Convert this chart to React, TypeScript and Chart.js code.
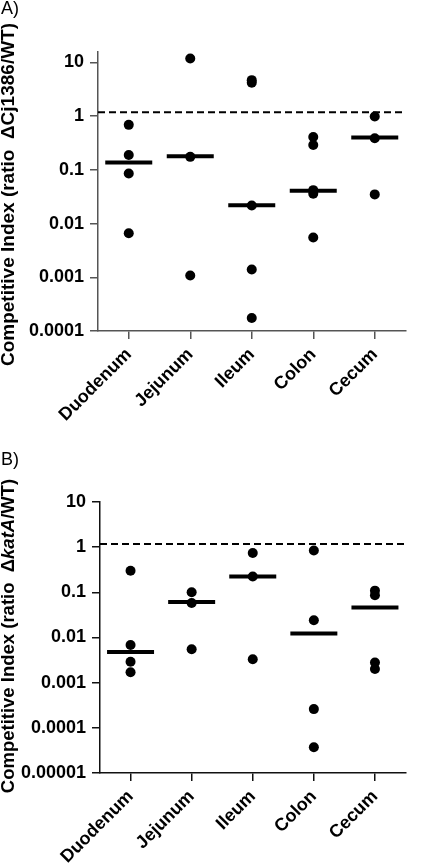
import React, { useEffect, useRef } from "react";
import { Chart, registerables } from "chart.js";

Chart.register(...registerables);

const categories = ["Duodenum", "Jejunum", "Ileum", "Colon", "Cecum"];

// Panel A: ΔCj1386/WT
const aDuodenum = [0.69, 0.19, 0.086, 0.0066];
const aJejunum = [11.9, 0.175, 0.00108];
const aIleum = [4.7, 4.2, 0.0217, 0.0014, 0.000175];
const aColon = [0.41, 0.29, 0.042, 0.036, 0.0055];
const aCecum = [0.99, 0.39, 0.035];
const aMedians = [0.137, 0.18, 0.022, 0.041, 0.4];

// Panel B: ΔkatA/WT
const bDuodenum = [0.3, 0.0068, 0.0029, 0.0017];
const bJejunum = [0.1, 0.058, 0.0055];
const bIleum = [0.74, 0.225, 0.0033];
const bColon = [0.84, 0.024, 0.00026, 0.000037];
const bCecum = [0.109, 0.086, 0.0028, 0.002];
const bMedians = [0.0048, 0.061, 0.225, 0.0122, 0.046];

const referenceLevel = 1.18;

const aTickValues = [0.0001, 0.001, 0.01, 0.1, 1, 10];
const aTickLabels = ["0.0001", "0.001", "0.01", "0.1", "1", "10"];
const bTickValues = [0.00001, 0.0001, 0.001, 0.01, 0.1, 1, 10];
const bTickLabels = ["0.00001", "0.0001", "0.001", "0.01", "0.1", "1", "10"];

const FONT = "'Liberation Sans', Arial, Helvetica, sans-serif";

type Seg = { t: string; italic?: boolean };

type PanelProps = {
  top: number;
  height: number;
  letter: string;
  letterY: number;
  groups: number[][];
  medians: number[];
  tickValues: number[];
  tickLabels: string[];
  yMin: number;
  yMax: number;
  chartTop: number;
  chartBottom: number;
  chartLeft: number;
  chartRight: number;
  axisColor: string;
  title: Seg[];
  titleSize: number;
  titleCenter: number;
};

function Panel(p: PanelProps) {
  const ref = useRef<HTMLCanvasElement | null>(null);
  useEffect(() => {
    if (!ref.current) return;
    const width = 433;
    const points: { x: string; y: number }[] = [];
    p.groups.forEach((g, i) => g.forEach((v) => points.push({ x: categories[i], y: v })));
    const medianPts = p.medians.map((v, i) => ({ x: categories[i], y: v }));

    const overlay = {
      id: "overlay" + p.letter,
      beforeDatasetsDraw(chart: any) {
        const { ctx, chartArea, scales } = chart;
        const y = scales.y.getPixelForValue(referenceLevel);
        ctx.save();
        ctx.strokeStyle = "#000";
        ctx.lineWidth = 2;
        ctx.setLineDash([7, 4]);
        ctx.beginPath();
        ctx.moveTo(chartArea.left, y);
        ctx.lineTo(chartArea.right, y);
        ctx.stroke();
        ctx.restore();
      },
      afterDraw(chart: any) {
        const { ctx } = chart;
        ctx.save();
        ctx.fillStyle = "#000";
        ctx.font = `18px ${FONT}`;
        ctx.textBaseline = "top";
        ctx.textAlign = "left";
        ctx.fillText(p.letter, 1, p.letterY);
        // y title
        ctx.translate(9, p.titleCenter);
        ctx.rotate(-Math.PI / 2);
        ctx.textBaseline = "middle";
        const fontFor = (s: Seg) => `${s.italic ? "italic " : ""}bold ${p.titleSize}px ${FONT}`;
        let total = 0;
        p.title.forEach((s) => {
          ctx.font = fontFor(s);
          total += ctx.measureText(s.t).width;
        });
        let x = -total / 2;
        p.title.forEach((s) => {
          ctx.font = fontFor(s);
          ctx.fillText(s.t, x, 0);
          x += ctx.measureText(s.t).width;
        });
        ctx.restore();
      },
    };

    const chart = new Chart(ref.current, {
      type: "line",
      data: {
        labels: categories,
        datasets: [
          {
            data: points as any,
            showLine: false,
            pointRadius: 5,
            pointHoverRadius: 5,
            pointBackgroundColor: "#000",
            pointBorderColor: "#000",
            pointBorderWidth: 0,
          },
          {
            data: medianPts as any,
            showLine: false,
            pointStyle: "line",
            pointRadius: 23.5,
            pointHoverRadius: 23.5,
            pointBorderColor: "#000",
            pointBorderWidth: 4,
            pointHoverBorderWidth: 4,
          },
        ],
      },
      options: {
        animation: false,
        responsive: false,
        events: [],
        layout: {
          padding: { top: p.chartTop, right: width - p.chartRight, left: 0, bottom: 0 },
        },
        plugins: { legend: { display: false }, tooltip: { enabled: false } },
        scales: {
          x: {
            type: "category",
            offset: true,
            grid: {
              drawOnChartArea: false,
              drawTicks: true,
              tickLength: 8,
              offset: false,
              color: p.axisColor,
              lineWidth: 1.5,
            },
            border: { color: p.axisColor, width: 1.5 },
            ticks: {
              maxRotation: 45,
              minRotation: 45,
              padding: 5,
              color: "#000",
              font: { family: FONT, size: 18, weight: "bold" },
            },
            afterFit: (s: any) => {
              s.height = p.height - p.chartBottom;
            },
          },
          y: {
            type: "logarithmic",
            min: p.yMin,
            max: p.yMax,
            afterBuildTicks: (s: any) => {
              s.ticks = p.tickValues.map((v) => ({ value: v }));
            },
            grid: {
              drawOnChartArea: false,
              drawTicks: true,
              tickLength: 8,
              color: p.axisColor,
              lineWidth: 1.5,
            },
            border: { color: p.axisColor, width: 1.5 },
            ticks: {
              autoSkip: false,
              padding: 6,
              color: "#000",
              font: { family: FONT, size: 18, weight: "bold" },
              callback: (v: any) => {
                let best = 0;
                p.tickValues.forEach((t, i) => {
                  if (Math.abs(Math.log10(t) - Math.log10(v)) < Math.abs(Math.log10(p.tickValues[best]) - Math.log10(v))) best = i;
                });
                return p.tickLabels[best];
              },
            },
            afterFit: (s: any) => {
              s.width = p.chartLeft;
            },
          },
        },
      } as any,
      plugins: [overlay],
    });
    return () => chart.destroy();
  }, []);

  return (
    <div style={{ position: "absolute", left: 0, top: p.top, width: 433, height: p.height }}>
      <canvas ref={ref} width={433} height={p.height} style={{ width: 433, height: p.height, display: "block" }} />
    </div>
  );
}

export default function App() {
  return (
    <div style={{ position: "absolute", left: 0, top: 0, width: 433, height: 863, background: "#fff", overflow: "hidden" }}>
      <Panel
        top={0}
        height={430}
        letter="A)"
        letterY={0}
        groups={[aDuodenum, aJejunum, aIleum, aColon, aCecum]}
        medians={aMedians}
        tickValues={aTickValues}
        tickLabels={aTickLabels}
        yMin={0.0001}
        yMax={15.7}
        chartTop={52}
        chartBottom={331}
        chartLeft={98}
        chartRight={431}
        axisColor="#555"
        title={[{ t: "Competitive Index (ratio  \u0394Cj1386/WT)" }]}
        titleSize={19}
        titleCenter={194.5}
      />
      <Panel
        top={430}
        height={433}
        letter="B)"
        letterY={21}
        groups={[bDuodenum, bJejunum, bIleum, bColon, bCecum]}
        medians={bMedians}
        tickValues={bTickValues}
        tickLabels={bTickLabels}
        yMin={0.00001}
        yMax={10}
        chartTop={72}
        chartBottom={343}
        chartLeft={100}
        chartRight={428}
        axisColor="#111"
        title={[{ t: "Competitive Index (ratio  \u0394" }, { t: "katA", italic: true }, { t: "/WT)" }]}
        titleSize={18.5}
        titleCenter={206}
      />
    </div>
  );
}
